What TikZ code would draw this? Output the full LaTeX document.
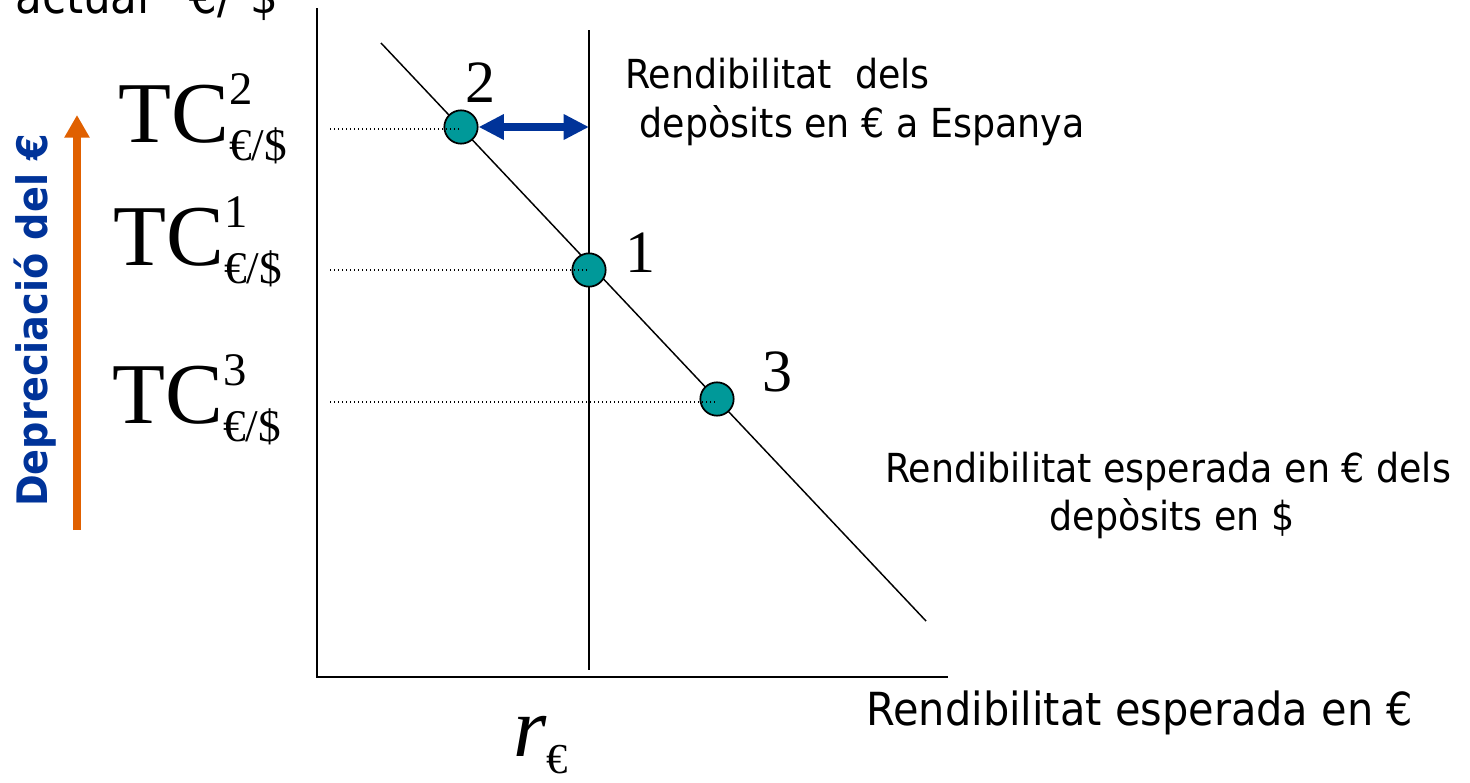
\documentclass[tikz,border=0pt]{standalone}
\usepackage{fontspec}
\setmainfont{DejaVu Sans}[FakeStretch=0.91]
\newfontfamily\tms{Liberation Serif}
\usetikzlibrary{arrows.meta}
\definecolor{teal1}{RGB}{0,153,153}
\definecolor{blue1}{RGB}{0,51,153}
\definecolor{orange1}{RGB}{224,96,0}
\newcommand{\tclab}[1]{{\tms\fontsize{65}{65}\selectfont TC}\rlap{\raisebox{28pt}{\tms\fontsize{35}{35}\selectfont #1}}\raisebox{-14pt}{\tms\fontsize{34}{34}\selectfont €/\$}}
\tikzset{
  txt/.style={inner sep=0pt, anchor=base west, font=\fontsize{30}{36}\selectfont},
  pt/.style={circle, fill=teal1, draw=black, line width=1.3pt, minimum size=25pt, inner sep=0pt},
  num/.style={inner sep=0pt, anchor=base west, font=\tms\fontsize{45}{45}\selectfont},
  guide/.style={line width=0.8pt, dash pattern=on 0.8pt off 2.2pt},
  axis/.style={line width=1.5pt},
}
\begin{document}
\begin{tikzpicture}[x=0.75pt, y=-0.75pt]
\useasboundingbox (0,0) rectangle (1470,782);
% axes
\coordinate (ytop) at (317,8);
\coordinate (orig) at (317,677);
\coordinate (xend) at (948,677);
\draw[axis] (ytop) -- (orig) -- (xend);
% vertical return line
\coordinate (vtop) at (589,30);
\coordinate (vbot) at (589,670);
\draw[axis] (vtop) -- (vbot);
% diagonal
\coordinate (dtop) at (381,43);
\coordinate (dbot) at (926,621);
\draw[line width=1.1pt] (dtop) -- (dbot);
% points
\node[pt] (c2) at (461,127) {};
\node[pt] (c1) at (589,270) {};
\node[pt] (c3) at (717,399) {};
% dotted guides
\coordinate (g2) at (330,129);
\coordinate (g1) at (330,270);
\coordinate (g3) at (330,402);
\draw[guide] (g2) -- (g2 -| c2);
\draw[guide] (g1) -- (c1.center);
\draw[guide] (g3) -- (g3 -| c3);
% numbers
\node[num] (n2) at (465,102) {2};
\node[num] (n1) at (625,272) {1};
\node[num] (n3) at (762,391) {3};
% blue arrow
\draw[blue1, line width=6pt, {Triangle[width=18pt,length=19pt]}-{Triangle[width=18pt,length=19pt]}] (c2.east) -- (c2.east -| vtop);
% TC labels
\node[inner sep=0pt, anchor=base west] (tc2) at (118,142) {\tclab{2}};
\node[inner sep=0pt, anchor=base west] (tc1) at (113,265) {\tclab{1}};
\node[inner sep=0pt, anchor=base west] (tc3) at (112,423) {\tclab{3}};
% top cut label
\node[inner sep=0pt, anchor=base west, font=\fontsize{36}{36}\selectfont] (act) at (15,13) {actual\hspace{30pt}€/\hspace{14pt}\$};
% orange arrow
\coordinate (oa) at (77,530);
\coordinate (ob) at (77,115);
\draw[orange1, line width=6pt, -{Triangle[width=18pt,length=17pt]}] (oa) -- (ob);
% vertical label
\node[inner sep=0pt, anchor=base west, rotate=90, text=blue1, font=\bfseries\fontsize{31.5}{31.5}\selectfont] (dep) at (47,507) {Depreciació del €};
% annotations
\node[txt] (a1) at (625,88) {Rendibilitat\ \ dels};
\node[txt] (a2) at (628,137) {\ depòsits en € a Espanya};
\node[txt] (b1) at (885,482) {Rendibilitat esperada en € dels};
\node[txt, anchor=base] (b2) at (1172,530) {depòsits en \$};
\node[txt, font=\fontsize{34.2}{36}\selectfont] (xl) at (866,725) {Rendibilitat esperada en €};
% r_euro
\node[inner sep=0pt, anchor=base west] (r) at (513,756) {{\tms\itshape\fontsize{64}{64}\selectfont r}\raisebox{-13pt}{\tms\fontsize{32}{32}\selectfont €}};
\end{tikzpicture}
\end{document}
